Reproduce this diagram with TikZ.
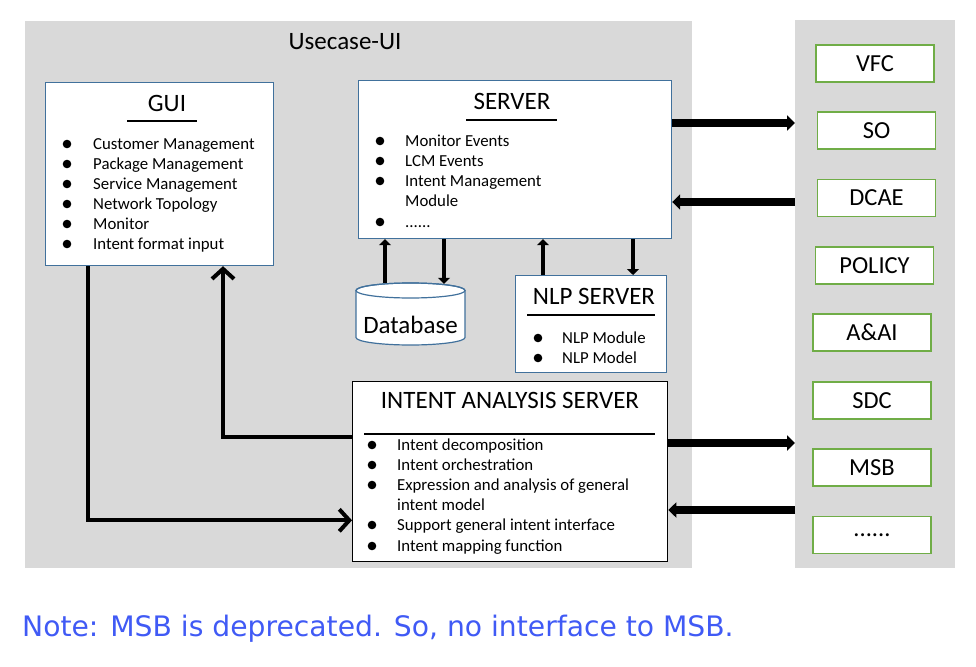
\documentclass[tikz,border=0pt]{standalone}
\usepackage{fontspec}
\setmainfont{Carlito}
\newfontfamily\notefont{DejaVu Sans}
\usetikzlibrary{arrows.meta,shapes.geometric,calc}
\definecolor{bgrey}{HTML}{D9D9D9}
\definecolor{bblue}{HTML}{41719C}
\definecolor{ggreen}{HTML}{70AD47}
\definecolor{notecol}{RGB}{64,90,245}
\begin{document}
\begin{tikzpicture}[x=1pt,y=-1pt,
  panel/.style={fill=bgrey, draw=none, inner sep=0, anchor=north west},
  bluebox/.style={draw=bblue, line width=1.2pt, fill=white, inner sep=0, anchor=north west},
  blackbox/.style={draw=black, line width=1.3pt, fill=white, inner sep=0, anchor=north west},
  greenbox/.style={draw=ggreen, line width=1.5pt, fill=white, inner sep=0, minimum width=118pt, minimum height=37pt, font=\fontsize{24.5}{28}\selectfont},
  ttl/.style={font=\fontsize{25}{29}\selectfont, inner sep=0},
  item/.style={font=\fontsize{16.8}{20}\selectfont, inner sep=0, anchor=base west},
  uline/.style={line width=1.4pt},
  bigarrow/.style={line width=7.5pt, -{Triangle[length=8pt,width=15pt]}},
  medarrow/.style={line width=4pt, -{Triangle[length=6pt,width=12pt]}},
  garrow/.style={line width=4pt, -{Straight Barb[length=10pt,width=22pt]}},
  dot/.style={fill=black}
]
\useasboundingbox (0,0) rectangle (976,666);

% panels
\node[panel, minimum width=667pt, minimum height=547pt] (uui) at (25,21) {};
\node[panel, minimum width=160pt, minimum height=548pt] (ext) at (795,20) {};
\node[ttl] (uuititle) at (345,42) {Usecase-UI};

% GUI
\node[bluebox, minimum width=228pt, minimum height=183pt] (gui) at (45,82) {};
\node[ttl] (guit) at (167,103) {GUI};
\draw[uline] (127,121) -- (197,121);
\foreach \t [count=\i] in {Customer Management,Package Management,Service Management,Network Topology,Monitor,Intent format input}{
  \node[item] (gui\i) at (93,129+20*\i) {\t};
  \fill[dot] (67,124+20*\i) circle (4.3pt);
}

% SERVER
\node[bluebox, minimum width=313pt, minimum height=158pt] (server) at (358,80) {};
\node[ttl] (servert) at (512,101) {SERVER};
\draw[uline] (466,120) -- (557,120);
\node[item] (srv1) at (405,146) {Monitor Events};
\node[item] (srv2) at (405,166) {LCM Events};
\node[item] (srv3) at (405,186) {Intent Management};
\node[item] (srv3b) at (405,206) {Module};
\node[item] (srv4) at (405,227) {......};
\foreach \y in {141,161,181,222}{\fill[dot] (380,\y) circle (4.3pt);}

% Database (cylinder)
\node[inner sep=0, minimum width=109pt, minimum height=62pt] (db) at (410.5,314) {};
\draw[draw=bblue, fill=white, line width=1.2pt]
  (356,290.5) -- (356,337.5) arc[start angle=180, end angle=0, x radius=54.5, y radius=7.5]
  -- (465,290.5) arc[start angle=0, end angle=-180, x radius=54.5, y radius=7.5] -- cycle;
\draw[draw=bblue, line width=1.2pt] (410.5,290.5) ellipse [x radius=54.5, y radius=7.5];
\node[ttl] (dblabel) at (410.5,325) {Database};

% NLP SERVER
\node[bluebox, minimum width=151pt, minimum height=97pt] (nlp) at (515,275) {};
\node[ttl] (nlpt) at (594,296) {NLP SERVER};
\draw[uline] (527,315) -- (655,315);
\node[item] (nlp1) at (562,343) {NLP Module};
\node[item] (nlp2) at (562,363) {NLP Model};
\foreach \y in {338,358}{\fill[dot] (538,\y) circle (4.3pt);}

% INTENT ANALYSIS SERVER
\node[blackbox, minimum width=315pt, minimum height=180pt] (intent) at (352,381) {};
\node[ttl] (intentt) at (510,400) {INTENT ANALYSIS SERVER};
\draw[uline] (364,434) -- (655,434);
\node[item] (ia1) at (397,450) {Intent decomposition};
\node[item] (ia2) at (397,470) {Intent orchestration};
\node[item] (ia3) at (397,490) {Expression and analysis of general};
\node[item] (ia3b) at (397,510) {intent model};
\node[item] (ia4) at (397,530) {Support general intent interface};
\node[item] (ia5) at (397,551) {Intent mapping function};
\foreach \y in {445,465,485,525,546}{\fill[dot] (372,\y) circle (4.3pt);}

% external components
\node[greenbox] (vfc) at (875,63.5) {VFC};
\node[greenbox] (so) at (876.5,130.5) {SO};
\node[greenbox] (dcae) at (876.5,198) {DCAE};
\node[greenbox] (policy) at (874.5,265.5) {POLICY};
\node[greenbox] (aai) at (872,332.5) {A\&AI};
\node[greenbox] (sdc) at (872,400.5) {SDC};
\node[greenbox] (msb) at (872,467.5) {MSB};
\node[greenbox] (more) at (872,535) {......};

% arrows server <-> external
\coordinate (s1) at ($(server.north east)+(0,43)$);
\coordinate (s2) at ($(server.north east)+(0,122)$);
\draw[bigarrow] (s1) -- (s1 -| ext.west);
\draw[bigarrow] (s2 -| ext.west) -- (s2);
\coordinate (i1) at ($(intent.north east)+(0,62)$);
\coordinate (i2) at ($(intent.north east)+(0,129)$);
\draw[bigarrow] (i1) -- (i1 -| ext.west);
\draw[bigarrow] (i2 -| ext.west) -- (i2);

% database arrows
\coordinate (d1) at ($(db.north)+(-25.5,0)$);
\coordinate (d2) at ($(db.north)+(33.5,1)$);
\draw[medarrow] (d1) -- (d1 |- server.south);
\draw[medarrow] (d2 |- server.south) -- (d2);

% NLP arrows
\coordinate (n1) at ($(nlp.north west)+(28,0)$);
\coordinate (n2) at ($(nlp.north west)+(118,0)$);
\draw[medarrow] (n1) -- (n1 |- server.south);
\draw[medarrow] (n2 |- server.south) -- (n2);

% GUI <-> intent
\coordinate (g1) at ($(gui.south west)+(43,0)$);
\coordinate (g2) at ($(gui.south west)+(178,0)$);
\coordinate (j1) at ($(intent.north west)+(0,56)$);
\coordinate (j2) at ($(intent.south west)+(0,-42)$);
\draw[garrow] (g1) |- (j2);
\draw[garrow] (j1) -| (g2);

% note
\node[font=\notefont\fontsize{28.2}{34}\selectfont, text=notecol, anchor=base west, inner sep=0] (note) at (22,636) {Note: MSB is deprecated. So, no interface to MSB.};
\end{tikzpicture}
\end{document}
